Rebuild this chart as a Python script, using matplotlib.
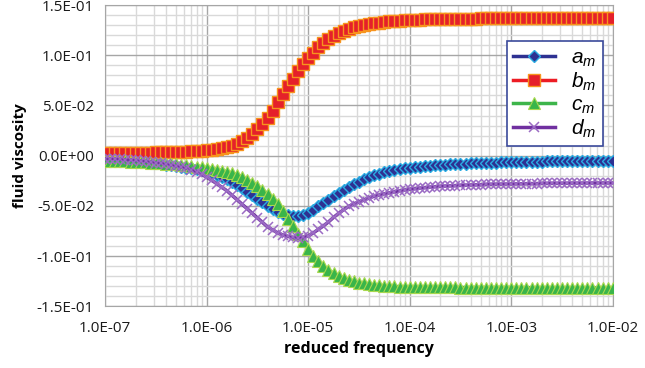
import numpy as np
import matplotlib
matplotlib.use("Agg")
import matplotlib.pyplot as plt
from matplotlib.ticker import FuncFormatter, MultipleLocator, LogLocator, NullFormatter

plt.rcParams['font.family'] = ['Open Sans', 'DejaVu Sans']
plt.rcParams['mathtext.fontset'] = 'custom'
plt.rcParams['mathtext.it'] = 'Liberation Sans:italic'
plt.rcParams['mathtext.rm'] = 'Liberation Sans'

# reduced frequency, sampled every 0.05 decade from 1e-7 to 1e-2
freq = np.logspace(-7, -2, 101)

a_m = [-0.0040, -0.0042, -0.0045, -0.0047, -0.0050, -0.0054, -0.0058, -0.0062, -0.0067, -0.0072,
       -0.0078, -0.0084, -0.0090, -0.0097, -0.0104, -0.0111, -0.0118, -0.0126, -0.0135, -0.0145,
       -0.0155, -0.0170, -0.0190, -0.0210, -0.0230, -0.0258, -0.0290, -0.0325, -0.0360, -0.0395,
       -0.0430, -0.0465, -0.0500, -0.0532, -0.0560, -0.0580, -0.0595, -0.0600, -0.0598, -0.0588,
       -0.0568, -0.0540, -0.0505, -0.0473, -0.0440, -0.0405, -0.0370, -0.0340, -0.0310, -0.0285,
       -0.0260, -0.0237, -0.0215, -0.0197, -0.0180, -0.0167, -0.0155, -0.0145, -0.0135, -0.0127,
       -0.0120, -0.0114, -0.0109, -0.0104, -0.0100, -0.0096, -0.0093, -0.0090, -0.0087, -0.0084,
       -0.0082, -0.0080, -0.0078, -0.0076, -0.0074, -0.0072, -0.0071, -0.0069, -0.0068, -0.0066,
       -0.0065, -0.0064, -0.0063, -0.0062, -0.0061, -0.0060, -0.0059, -0.0058, -0.0057, -0.0056,
       -0.0055, -0.0055, -0.0054, -0.0053, -0.0052, -0.0052, -0.0051, -0.0050, -0.0050, -0.0049,
       -0.0049]

b_m = [0.0030, 0.0030, 0.0030, 0.0030, 0.0030, 0.0030, 0.0030, 0.0030, 0.0031, 0.0031,
       0.0032, 0.0032, 0.0033, 0.0034, 0.0035, 0.0037, 0.0039, 0.0042, 0.0045, 0.0049,
       0.0053, 0.0059, 0.0066, 0.0075, 0.0086, 0.0100, 0.0120, 0.0145, 0.0180, 0.0220,
       0.0270, 0.0320, 0.0380, 0.0450, 0.0530, 0.0610, 0.0690, 0.0765, 0.0840, 0.0910,
       0.0970, 0.1025, 0.1080, 0.1125, 0.1165, 0.1195, 0.1225, 0.1245, 0.1265, 0.1280,
       0.1292, 0.1303, 0.1312, 0.1320, 0.1327, 0.1333, 0.1338, 0.1342, 0.1346, 0.1349,
       0.1352, 0.1354, 0.1356, 0.1358, 0.1359, 0.1361, 0.1362, 0.1363, 0.1364, 0.1365,
       0.1365, 0.1366, 0.1366, 0.1366, 0.1367, 0.1367, 0.1367, 0.1367, 0.1368, 0.1368,
       0.1368, 0.1368, 0.1368, 0.1369, 0.1369, 0.1369, 0.1369, 0.1369, 0.1369, 0.1369,
       0.1370, 0.1370, 0.1370, 0.1370, 0.1370, 0.1370, 0.1370, 0.1370, 0.1370, 0.1370,
       0.1370]

c_m = [-0.0050, -0.0051, -0.0053, -0.0055, -0.0057, -0.0060, -0.0062, -0.0065, -0.0067, -0.0070,
       -0.0073, -0.0076, -0.0080, -0.0084, -0.0088, -0.0092, -0.0097, -0.0102, -0.0108, -0.0114,
       -0.0120, -0.0128, -0.0138, -0.0148, -0.0160, -0.0173, -0.0190, -0.0213, -0.0240, -0.0268,
       -0.0300, -0.0338, -0.0380, -0.0428, -0.0480, -0.0553, -0.0630, -0.0705, -0.0780, -0.0855,
       -0.0930, -0.0995, -0.1050, -0.1098, -0.1140, -0.1172, -0.1200, -0.1222, -0.1240, -0.1254,
       -0.1265, -0.1274, -0.1282, -0.1288, -0.1293, -0.1297, -0.1300, -0.1303, -0.1305, -0.1307,
       -0.1308, -0.1309, -0.1310, -0.1311, -0.1311, -0.1312, -0.1312, -0.1313, -0.1313, -0.1313,
       -0.1314, -0.1314, -0.1314, -0.1314, -0.1314, -0.1314, -0.1314, -0.1314, -0.1314, -0.1314,
       -0.1315, -0.1315, -0.1315, -0.1315, -0.1316, -0.1316, -0.1316, -0.1316, -0.1316, -0.1317,
       -0.1317, -0.1317, -0.1317, -0.1317, -0.1317, -0.1318, -0.1318, -0.1318, -0.1318, -0.1318,
       -0.1318]

d_m = [-0.0030, -0.0032, -0.0034, -0.0037, -0.0040, -0.0044, -0.0048, -0.0053, -0.0058, -0.0064,
       -0.0070, -0.0077, -0.0085, -0.0094, -0.0103, -0.0112, -0.0125, -0.0140, -0.0160, -0.0185,
       -0.0215, -0.0245, -0.0280, -0.0315, -0.0350, -0.0395, -0.0440, -0.0485, -0.0530, -0.0575,
       -0.0620, -0.0665, -0.0710, -0.0740, -0.0770, -0.0790, -0.0805, -0.0815, -0.0820, -0.0815,
       -0.0800, -0.0770, -0.0735, -0.0700, -0.0660, -0.0615, -0.0575, -0.0538, -0.0505, -0.0480,
       -0.0460, -0.0440, -0.0420, -0.0405, -0.0392, -0.0380, -0.0370, -0.0360, -0.0350, -0.0342,
       -0.0335, -0.0329, -0.0323, -0.0318, -0.0313, -0.0309, -0.0306, -0.0303, -0.0300, -0.0298,
       -0.0296, -0.0294, -0.0292, -0.0290, -0.0289, -0.0287, -0.0286, -0.0285, -0.0284, -0.0283,
       -0.0282, -0.0281, -0.0280, -0.0279, -0.0278, -0.0278, -0.0277, -0.0277, -0.0276, -0.0276,
       -0.0275, -0.0275, -0.0274, -0.0274, -0.0274, -0.0273, -0.0273, -0.0273, -0.0272, -0.0272,
       -0.0272]

fig = plt.figure(figsize=(6.45, 3.68), dpi=100)
ax = fig.add_axes([0.163, 0.168, 0.787, 0.818])

ax.plot(freq, a_m, color='#2E3192', lw=2.5, marker='D', ms=6, mfc='#2E3192', mec='#29ABE2', mew=1.0,
        label=r'$a_m$', zorder=3)
ax.plot(freq, b_m, color='#ED1C24', lw=2.5, marker='s', ms=8, mfc='#E5202A', mec='#F7941D', mew=1.0,
        label=r'$b_m$', zorder=3)
ax.plot(freq, c_m, color='#3DB54A', lw=2.5, marker='^', ms=9, mfc='#39B54A', mec='#A8D84E', mew=0.8,
        label=r'$c_m$', zorder=3)
ax.plot(freq, d_m, color='#7030A0', lw=2.5, marker='x', ms=7, mec='#9B6BC4', mew=1.1,
        label=r'$d_m$', zorder=3)

ax.set_xscale('log')
ax.set_xlim(1e-7, 1e-2)
ax.set_ylim(-0.15, 0.15)

ax.xaxis.set_major_locator(LogLocator(base=10, numticks=10))
ax.xaxis.set_minor_locator(LogLocator(base=10, subs=np.arange(2, 10), numticks=20))
ax.xaxis.set_minor_formatter(NullFormatter())
ax.xaxis.set_major_formatter(FuncFormatter(lambda v, p: '%.1E' % v))
ax.yaxis.set_major_locator(MultipleLocator(0.05))
ax.yaxis.set_minor_locator(MultipleLocator(0.01))
ax.yaxis.set_major_formatter(FuncFormatter(lambda v, p: '%.1E' % (0.0 if abs(v) < 1e-9 else v)))

ax.grid(which='major', color='#A6A6A6', lw=1.0, zorder=0)
ax.grid(which='minor', color='#D9D9D9', lw=1.0, zorder=0)
ax.set_axisbelow(True)
ax.tick_params(which='both', length=0, labelsize=11, colors='#1A1A1A')
ax.tick_params(axis='x', pad=11)
ax.tick_params(axis='y', pad=8)
for sp in ax.spines.values():
    sp.set_color('#A6A6A6')

ax.set_xlabel('reduced frequency', fontsize=11.5, fontweight='bold', labelpad=3)
ax.set_ylabel('fluid viscosity', fontsize=11, fontweight='bold', labelpad=7)

leg = ax.legend(loc='upper right', bbox_to_anchor=(0.98, 0.88), fontsize=15, frameon=True,
                fancybox=False, handlelength=2.0, handletextpad=0.8, borderpad=0.3,
                labelspacing=0.08, borderaxespad=0)
leg.get_frame().set_edgecolor('#3B4A9B')
leg.get_frame().set_linewidth(1.2)
leg.get_frame().set_alpha(1)

fig.savefig('out.png', dpi=100)
